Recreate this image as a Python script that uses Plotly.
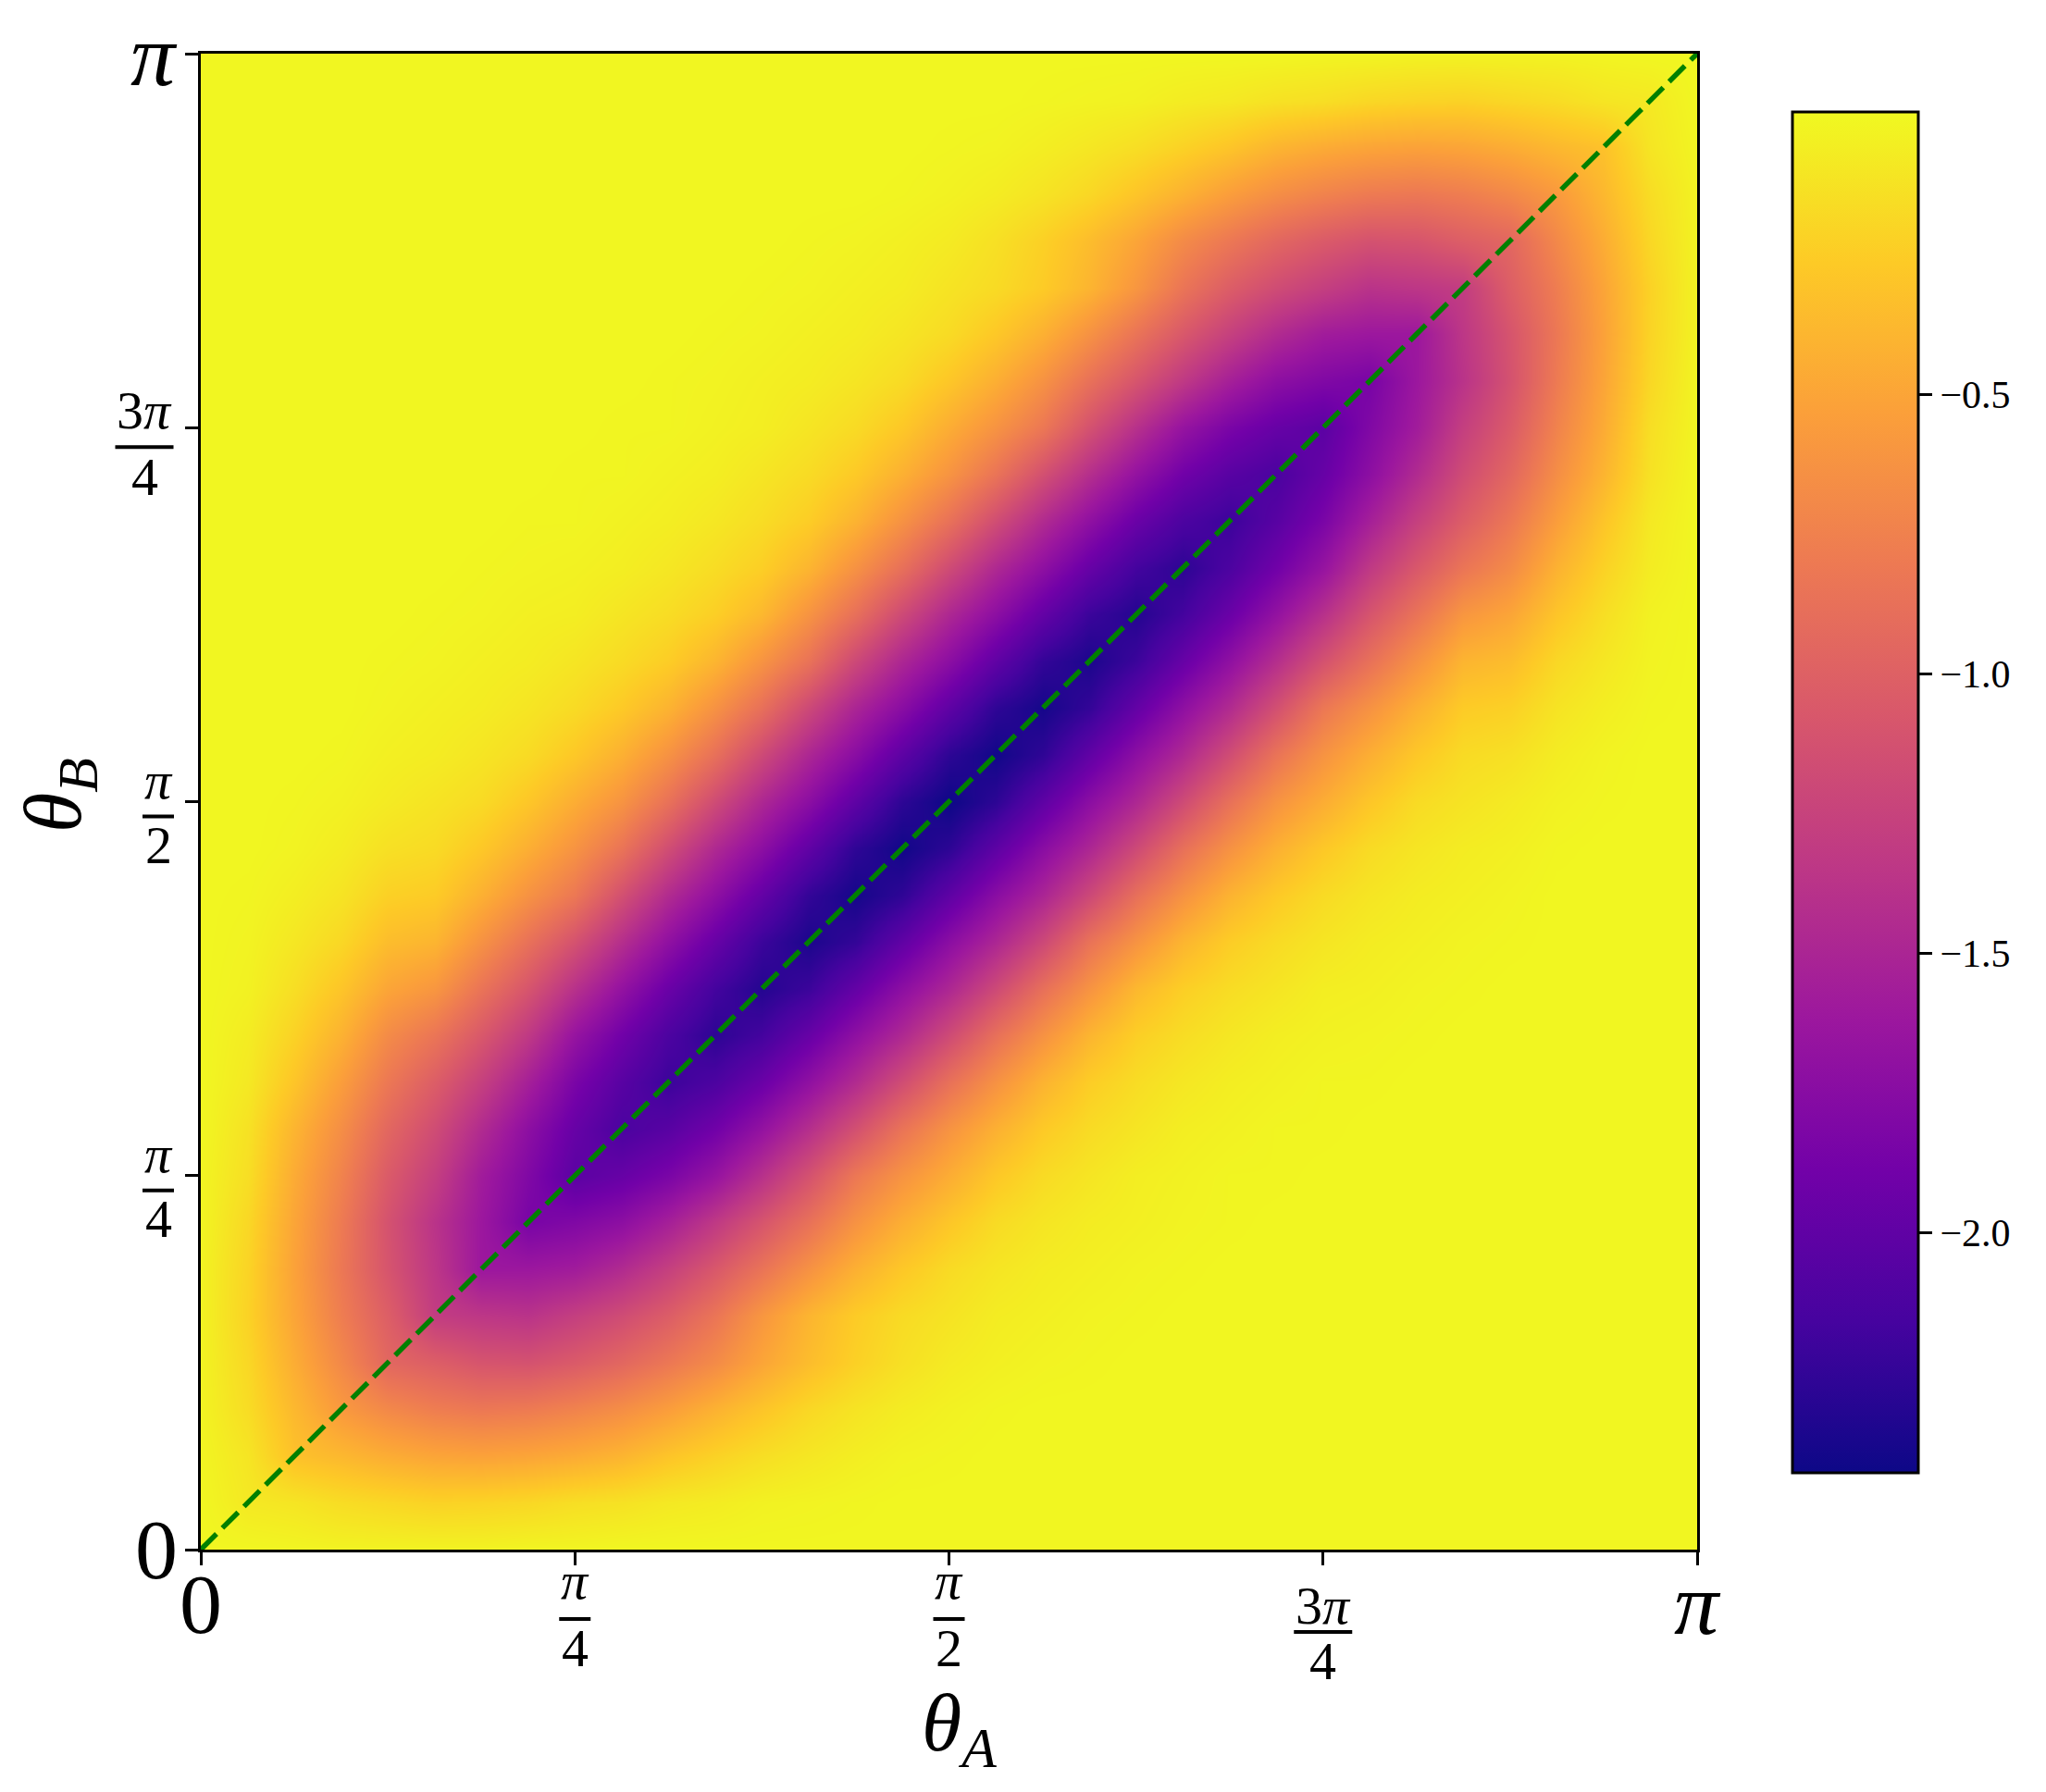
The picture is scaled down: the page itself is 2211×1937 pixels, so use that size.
import numpy as np
import plotly.graph_objects as go

PW, PH = 2211, 1937
L, R, T, B = 217, 1834, 58, 1675
AX = R - L

# Values, by distance from the frame (m) and distance from the diagonal (k).
# The picture is mirrored about both diagonals, so each row covers all four mirrored regions.
edge_00 = [-.01,-.01,-.02,-.03,-.03,-.03,-.03,-.02,-.02]
edge_01 = [-.09,-.11,-.16,-.19,-.22,-.21,-.19,-.15,-.13,-.09,-.07,-.04,-.03,-.02]
edge_02 = [-.32,-.38,-.45,-.50,-.52,-.50,-.46,-.40,-.30,-.22,-.15,-.10,-.06,-.03,-.02]
edge_03 = [-.58,-.70,-.78,-.82,-.80,-.74,-.66,-.55,-.42,-.30,-.19,-.12,-.07,-.04,-.02]
edge_04 = [-.95,-1.02,-1.10,-1.12,-1.05,-.95,-.82,-.68,-.50,-.35,-.23,-.14,-.08,-.05,-.03,-.02]
edge_05 = [-1.30,-1.35,-1.38,-1.28,-1.17,-1.03,-.84,-.60,-.40,-.26,-.17,-.12,-.07,-.05,-.03,-.02]
edge_06 = [-1.62,-1.62,-1.58,-1.45,-1.27,-1.07,-.85,-.63,-.43,-.28,-.17,-.11,-.07,-.05,-.03,-.02]
edge_07 = [-1.85,-1.80,-1.72,-1.55,-1.33,-1.10,-.87,-.63,-.44,-.29,-.17,-.11,-.07,-.05,-.03,-.02]
edge_08 = [-2.03,-1.96,-1.84,-1.66,-1.40,-1.12,-.82,-.62,-.45,-.28,-.17,-.11,-.06,-.04,-.02,-.02]
edge_09 = [-2.13,-2.05,-1.90,-1.68,-1.42,-1.14,-.85,-.62,-.43,-.27,-.17,-.11,-.06,-.04,-.02]
edge_10 = [-2.21,-2.12,-1.94,-1.70,-1.45,-1.16,-.87,-.63,-.41,-.25,-.16,-.10,-.06]
edge_11 = [-2.28,-2.17,-1.96,-1.71,-1.47,-1.18,-.88,-.63,-.40,-.24,-.16]
edge_12 = [-2.32,-2.21,-1.98,-1.72,-1.48,-1.19,-.88,-.62,-.38]
edge_13 = [-2.36,-2.25,-2.00,-1.73,-1.49,-1.20,-.86]
edge_14 = [-2.39,-2.27,-2.01,-1.74,-1.50]
edge_15 = [-2.41,-2.28,-2.02]
edge_16 = [-2.43]
far_value = -0.01
edges = [edge_00, edge_01, edge_02, edge_03, edge_04, edge_05, edge_06, edge_07, edge_08,
         edge_09, edge_10, edge_11, edge_12, edge_13, edge_14, edge_15, edge_16]

N = 33
theta = [np.pi * i / (N - 1) for i in range(N)]

def cell(i, j):
    lo, hi = min(i, j), max(i, j)
    m = min(lo, N - 1 - hi)
    k = hi - lo
    row = edges[m]
    return row[k] if k < len(row) else far_value

z = [[cell(i, j) for i in range(N)] for j in range(N)]

diagonal = [0, np.pi]
tick_vals = [0, np.pi / 4, np.pi / 2, 3 * np.pi / 4, np.pi]
cbar_vals = [-2.0, -1.5, -1.0, -0.5]
cbar_text = ["\u22122.0", "\u22121.5", "\u22121.0", "\u22120.5"]
z_min, z_max = -2.43, 0.005

SERIF = "Liberation Serif"
fig = go.Figure()
fig.add_trace(go.Heatmap(
    x=theta, y=theta, z=z, zmin=z_min, zmax=z_max, colorscale="Plasma", zsmooth="best",
    hoverinfo="skip",
    colorbar=dict(
        x=(1937 - L) / AX, xanchor="left", xpad=0,
        y=(B - 121) / AX, yanchor="top", ypad=0,
        len=1471, lenmode="pixels", thickness=136, thicknessmode="pixels",
        outlinewidth=3, outlinecolor="black", ticks="outside", ticklen=14, tickwidth=3,
        tickcolor="black", tickmode="array", tickvals=cbar_vals, ticktext=cbar_text,
        tickfont=dict(family=SERIF, size=42, color="black"),
    ),
))
fig.add_trace(go.Scatter(
    x=diagonal, y=diagonal, mode="lines", hoverinfo="skip", showlegend=False,
    line=dict(color="#008000", width=5.5, dash="24px,9px"),
))

anns, shapes = [], []

def txt(text, px, py, size, **kw):
    anns.append(dict(text=text, xref="paper", yref="paper", x=(px - L) / AX, y=(B - py) / AX,
                     xanchor="center", yanchor="middle", showarrow=False,
                     font=dict(family=SERIF, size=size, color="black"), **kw))

def bar(cx, cy, w):
    shapes.append(dict(type="line", xref="paper", yref="paper",
                       x0=(cx - w / 2 - L) / AX, x1=(cx + w / 2 - L) / AX,
                       y0=(B - cy) / AX, y1=(B - cy) / AX,
                       line=dict(color="black", width=4)))

PI = "<i>\u03c0</i>"
FS_ZERO, FS_PI, FS_FR = 92, 96, 58
# x-axis tick labels
txt("0", L, 1734, FS_ZERO)
txt(PI, R, 1733, FS_PI)
for val, num, den in [(tick_vals[1], PI, "4"), (tick_vals[2], PI, "2")]:
    cx = L + val / np.pi * AX
    txt(num, cx, 1709, FS_FR)
    bar(cx, 1750, 34)
    txt(den, cx, 1781, FS_FR)
cx = L + tick_vals[3] / np.pi * AX
txt("3" + PI, cx, 1735, FS_FR)
bar(cx, 1764, 63)
txt("4", cx, 1795, FS_FR)
# y-axis tick labels
txt("0", 169, 1675, FS_ZERO)
txt(PI, 166, 59, FS_PI)
for val, num, den in [(tick_vals[1], PI, "4"), (tick_vals[2], PI, "2")]:
    ty = B - val / np.pi * AX
    txt(num, 171, ty - 23, FS_FR)
    bar(171, ty + 16, 34)
    txt(den, 171, ty + 47, FS_FR)
ty = B - tick_vals[3] / np.pi * AX
txt("3" + PI, 156, ty - 19, FS_FR)
bar(156, ty + 21, 63)
txt("4", 156, ty + 53, FS_FR)
# axis titles
txt("<i>\u03b8</i><sub><i>A</i></sub>", 1036, 1868, 88)
txt("<i>\u03b8</i><sub><i>B</i></sub>", 63, 860, 88, textangle=-90)

ax = dict(range=[0, np.pi], tickmode="array", tickvals=tick_vals, showticklabels=False,
          ticks="outside", ticklen=14, tickwidth=3, tickcolor="black", showgrid=False,
          zeroline=False, showline=True, linewidth=3, linecolor="black", mirror=True)
fig.update_layout(
    width=PW, height=PH, autosize=False, showlegend=False,
    margin=dict(l=L, r=PW - R, t=T, b=PH - B, pad=0),
    paper_bgcolor="white", plot_bgcolor="white",
    xaxis=ax, yaxis=ax, annotations=anns, shapes=shapes,
)
fig.write_html("out.html", config={"displayModeBar": False},
               post_script="document.body.style.margin='0';")
